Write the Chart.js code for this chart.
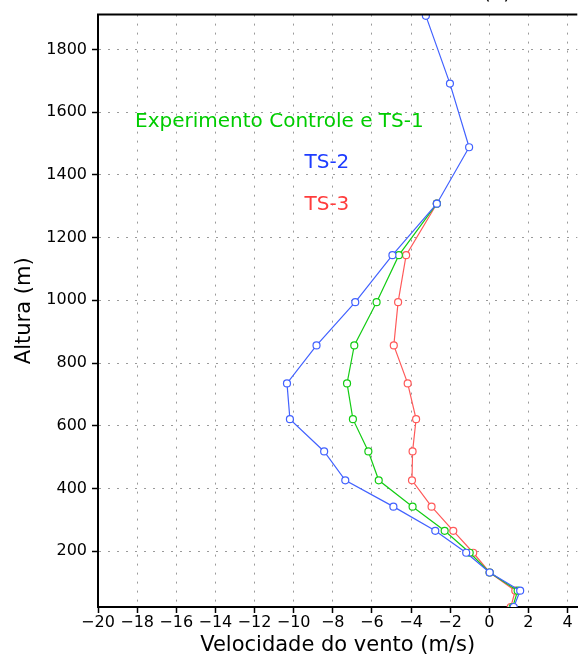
<!DOCTYPE html>
<html>
<head>
<meta charset="utf-8">
<script src="https://cdn.jsdelivr.net/npm/chart.js@4"></script>
<style>
  html, body { margin: 0; padding: 0; background: #fff; overflow: hidden; }
  canvas { display: block; }
</style>
</head>
<body>
<canvas id="chart" width="582" height="663"></canvas>
<script>
// Alturas dos niveis (m)
const alturas = [22, 74, 132, 195, 265, 342, 426, 518, 621, 735, 856, 994, 1144, 1308, 1488, 1691, 1907];

// Velocidade do vento (m/s) para cada experimento
const ts2 = [1.25, 1.58, 0.02, -1.18, -2.76, -4.9, -7.36, -8.44, -10.19, -10.34, -8.83, -6.85, -4.95, -2.68, -1.03, -2.01, -3.24];
const controle = [1.2, 1.45, 0.02, -1.0, -2.28, -3.92, -5.65, -6.18, -6.97, -7.27, -6.9, -5.76, -4.62, -2.68];
const ts3 = [1.1, 1.33, 0.02, -0.82, -1.84, -2.95, -3.95, -3.92, -3.74, -4.17, -4.88, -4.66, -4.25, -2.68];

const xTicks = [-20, -18, -16, -14, -12, -10, -8, -6, -4, -2, 0, 2, 4];
const yTicks = [200, 400, 600, 800, 1000, 1200, 1400, 1600, 1800];

// Rotulos dentro do grafico: texto, cor, posicao (x, altura)
const rotulos = ['Experimento Controle e TS-1', 'TS-2', 'TS-3'];
const rotuloCores = ['#00cc00', '#1e3cff', '#ff3c3c'];
const rotuloX = [-10.73, -8.3, -8.3];
const rotuloY = [1568, 1438, 1305];

function pontos(valores) {
  return valores.map((v, i) => ({ x: v, y: alturas[i] }));
}

function menos(v) {
  return v < 0 ? '\u2212' + Math.abs(v) : String(v);
}

// desenha a moldura de cima e os rotulos
const extras = {
  id: 'extras',
  afterDraw(chart) {
    const ctx = chart.ctx;
    const area = chart.chartArea;
    const sx = chart.scales.x;
    const sy = chart.scales.y;
    ctx.save();
    ctx.strokeStyle = '#000';
    ctx.lineWidth = 2;
    ctx.beginPath();
    ctx.moveTo(area.left - 1, area.top);
    ctx.lineTo(area.right, area.top);
    ctx.stroke();

    ctx.font = '20px "DejaVu Sans"';
    ctx.textAlign = 'center';
    ctx.textBaseline = 'middle';
    for (let i = 0; i < rotulos.length; i++) {
      ctx.fillStyle = rotuloCores[i];
      ctx.fillText(rotulos[i], sx.getPixelForValue(rotuloX[i]), sy.getPixelForValue(rotuloY[i]));
    }

    // titulo cortado no topo
    ctx.fillStyle = '#000';
    ctx.textBaseline = 'alphabetic';
    ctx.fillText('(a)', 497, -1);
    ctx.restore();
  }
};

const ctx = document.getElementById('chart').getContext('2d');
const chart = new Chart(ctx, {
  type: 'scatter',
  data: {
    datasets: [
      {
        label: 'TS-2',
        data: pontos(ts2),
        borderColor: '#4262ff',
        backgroundColor: '#ffffff',
      },
      {
        label: 'Experimento Controle e TS-1',
        data: pontos(controle),
        borderColor: '#14cc14',
        backgroundColor: '#ffffff',
      },
      {
        label: 'TS-3',
        data: pontos(ts3),
        borderColor: '#ff5a5a',
        backgroundColor: '#ffffff',
      },
    ],
  },
  options: {
    responsive: false,
    animation: false,
    devicePixelRatio: 1,
    showLine: true,
    elements: {
      line: { borderWidth: 1.2, tension: 0 },
      point: { radius: 3.5, borderWidth: 1.2, pointStyle: 'circle', hoverRadius: 3.5 },
    },
    layout: { padding: { top: 12, right: 0, left: 0, bottom: 0 } },
    plugins: {
      legend: { display: false },
      tooltip: { enabled: false },
    },
    scales: {
      x: {
        type: 'linear',
        min: -20,
        max: 4.5,
        afterBuildTicks: (scale) => { scale.ticks = xTicks.map(v => ({ value: v })); },
        afterFit: (scale) => { scale.height = 56; },
        ticks: {
          color: '#000',
          font: { family: 'DejaVu Sans', size: 16 },
          padding: 0,
          maxRotation: 0,
          autoSkip: false,
          callback: (v) => menos(v),
        },
        grid: {
          color: '#9a9a9a',
          lineWidth: 1,
          tickColor: '#000',
          tickLength: 6,
          tickWidth: 1.5,
        },
        border: { display: true, color: '#000', width: 2, dash: [2, 7] },
        title: {
          display: true,
          text: 'Velocidade do vento (m/s)',
          color: '#000',
          font: { family: 'DejaVu Sans', size: 21 },
          padding: { top: 0, bottom: 5 },
        },
      },
      y: {
        type: 'linear',
        min: 22,
        max: 1911,
        afterBuildTicks: (scale) => { scale.ticks = yTicks.map(v => ({ value: v })); },
        afterFit: (scale) => { scale.width = 98; },
        ticks: {
          color: '#000',
          font: { family: 'DejaVu Sans', size: 16 },
          padding: 5,
          autoSkip: false,
          callback: (v) => String(v),
        },
        grid: {
          color: '#9a9a9a',
          lineWidth: 1,
          tickColor: '#000',
          tickLength: 6,
          tickWidth: 1.5,
        },
        border: { display: true, color: '#000', width: 2, dash: [2, 7] },
        title: {
          display: true,
          text: 'Altura (m)',
          color: '#000',
          font: { family: 'DejaVu Sans', size: 21 },
          padding: { top: 12, bottom: 0 },
        },
      },
    },
  },
  plugins: [extras],
});
</script>
</body>
</html>
